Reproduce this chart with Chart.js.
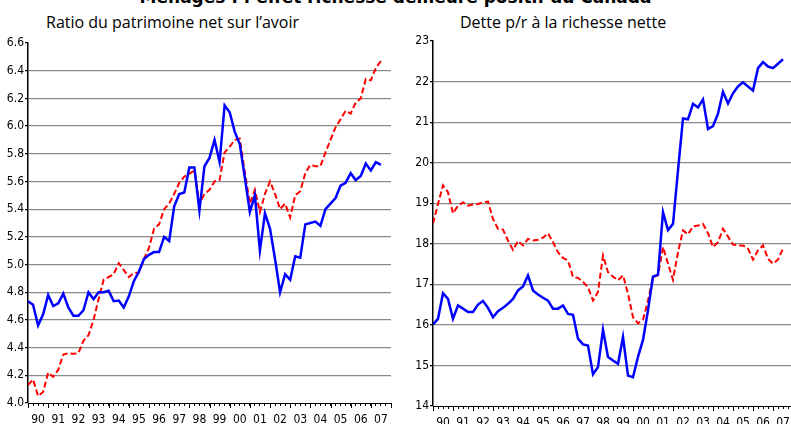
<!DOCTYPE html>
<html>
<head>
<meta charset="utf-8">
<script src="https://cdn.jsdelivr.net/npm/chart.js@4.4.1/dist/chart.umd.min.js"></script>
<style>
  body { margin: 0; width: 791px; height: 424px; overflow: hidden; background: #fff; position: relative; }
  .main-title { position: absolute; left: 0; top: -13px; width: 791px; text-align: center;
    font: bold 17px "DejaVu Sans", sans-serif; color: #000; white-space: nowrap; }
  .sub-title { position: absolute; top: 11px; font: 16px "Open Sans", sans-serif; color: #000; white-space: nowrap; }
  canvas { position: absolute; top: 0; }
</style>
</head>
<body>
<div class="main-title">Ménages : l’effet richesse demeure positif au Canada</div>
<div class="sub-title" id="left-title" style="left:46px">Ratio du patrimoine net sur l’avoir</div>
<div class="sub-title" id="right-title" style="left:460px">Dette p/r à la richesse nette</div>
<canvas id="wealth-chart" width="400" height="424" style="left:0"></canvas>
<canvas id="debt-chart" width="400" height="424" style="left:400px"></canvas>
<script>
// quarterly, 1990T1 .. 2007T3
const yearLabels = ['90','91','92','93','94','95','96','97','98','99','00','01','02','03','04','05','06','07'];

const wealthBlue = [4.735, 4.71, 4.56, 4.64, 4.78, 4.70, 4.72, 4.79, 4.69, 4.63, 4.63, 4.67,
  4.80, 4.75, 4.80, 4.80, 4.81, 4.735, 4.74, 4.69, 4.77, 4.88, 4.95, 5.04,
  5.07, 5.09, 5.09, 5.20, 5.17, 5.42, 5.51, 5.52, 5.70, 5.70, 5.39, 5.71,
  5.77, 5.90, 5.74, 6.15, 6.10, 5.96, 5.87, 5.63, 5.38, 5.50, 5.10, 5.37,
  5.26, 5.04, 4.80, 4.93, 4.89, 5.06, 5.05, 5.29, 5.30, 5.31, 5.28, 5.40,
  5.44, 5.48, 5.57, 5.59, 5.66, 5.61, 5.64, 5.73, 5.68, 5.74, 5.72];

const wealthRed = [4.13, 4.17, 4.05, 4.08, 4.22, 4.19, 4.24, 4.35, 4.36, 4.355, 4.36, 4.45,
  4.49, 4.60, 4.75, 4.89, 4.91, 4.93, 5.01, 4.96, 4.91, 4.94, 4.94, 5.04,
  5.12, 5.26, 5.29, 5.40, 5.44, 5.51, 5.59, 5.635, 5.655, 5.68, 5.44, 5.51,
  5.54, 5.60, 5.61, 5.81, 5.85, 5.90, 5.91, 5.67, 5.44, 5.54, 5.38, 5.51,
  5.60, 5.51, 5.40, 5.44, 5.34, 5.50, 5.53, 5.66, 5.72, 5.71, 5.71, 5.81,
  5.90, 5.99, 6.05, 6.11, 6.09, 6.17, 6.20, 6.34, 6.33, 6.42, 6.47];

const debtBlue = [16.01, 16.15, 16.78, 16.64, 16.15, 16.48, 16.40, 16.32, 16.32, 16.50, 16.59, 16.42,
  16.19, 16.34, 16.42, 16.52, 16.64, 16.85, 16.95, 17.22, 16.85, 16.75, 16.67, 16.60,
  16.40, 16.40, 16.48, 16.27, 16.25, 15.66, 15.52, 15.49, 14.78, 14.96, 15.88, 15.21,
  15.12, 15.04, 15.70, 14.75, 14.71, 15.21, 15.63, 16.36, 17.19, 17.24, 18.78, 18.34,
  18.49, 19.81, 21.09, 21.07, 21.45, 21.36, 21.56, 20.83, 20.90, 21.21, 21.75, 21.46,
  21.71, 21.88, 21.98, 21.88, 21.78, 22.33, 22.48, 22.37, 22.33, 22.44, 22.55];

const debtRed = [18.50, 18.98, 19.44, 19.27, 18.75, 18.94, 19.02, 18.94, 18.97, 18.98, 19.02, 19.04,
  18.61, 18.37, 18.35, 18.08, 17.85, 18.07, 17.96, 18.12, 18.08, 18.10, 18.15, 18.26,
  18.04, 17.79, 17.65, 17.59, 17.18, 17.16, 17.06, 16.93, 16.60, 16.81, 17.71, 17.30,
  17.19, 17.10, 17.22, 16.77, 16.19, 16.04, 16.13, 16.60, 17.18, 17.22, 17.92, 17.51,
  17.11, 17.79, 18.33, 18.23, 18.43, 18.45, 18.49, 18.26, 17.92, 18.04, 18.37, 18.18,
  17.98, 17.96, 17.96, 17.88, 17.61, 17.84, 17.96, 17.63, 17.51, 17.61, 17.88];

const tickFont = { family: "'Liberation Sans Narrow', 'DejaVu Sans Condensed', sans-serif", size: 12 };

function toPoints(values) {
    return values.map((v, i) => ({ x: i, y: v }));
}

// longer tick marks at each year boundary
const yearTicks = {
    id: 'yearTicks',
    afterDraw(chart) {
        const xs = chart.scales.x;
        const ctx = chart.ctx;
        ctx.save();
        ctx.strokeStyle = '#000';
        ctx.lineWidth = 1;
        for (let q = 0; q <= 72; q += 4) {
            const px = Math.round(xs.getPixelForValue(q)) + 0.5;
            ctx.beginPath();
            ctx.moveTo(px, xs.top);
            ctx.lineTo(px, xs.top + 5);
            ctx.stroke();
        }
        ctx.restore();
    }
};

function makeChart(id, blue, red, yMin, yMax, yStep, yDigits, yWidth, xHeight, padTop, padRight) {
    const ctx = document.getElementById(id).getContext('2d');
    return new Chart(ctx, {
        type: 'line',
        data: {
            datasets: [
                {
                    data: toPoints(blue),
                    borderColor: '#0000ff',
                    borderWidth: 2.5,
                    pointRadius: 0,
                    tension: 0,
                    fill: false,
                },
                {
                    data: toPoints(red),
                    borderColor: '#ff0000',
                    borderWidth: 2,
                    borderDash: [6, 3],
                    pointRadius: 0,
                    tension: 0,
                    fill: false,
                },
            ],
        },
        options: {
            responsive: false,
            animation: false,
            devicePixelRatio: 1,
            layout: { padding: { top: padTop, right: padRight, left: 0, bottom: 0 } },
            plugins: { legend: { display: false }, tooltip: { enabled: false } },
            scales: {
                x: {
                    type: 'linear',
                    min: 0,
                    max: 72,
                    afterFit: (scale) => { scale.height = xHeight; },
                    border: { color: '#000', width: 1 },
                    grid: { drawOnChartArea: false, drawTicks: true, tickLength: 3, tickColor: '#000' },
                    ticks: {
                        count: 73,
                        autoSkip: false,
                        maxRotation: 0,
                        padding: 7,
                        color: '#000',
                        font: tickFont,
                        callback: (value, index) => (index % 4 === 2 ? yearLabels[(index - 2) / 4] : ''),
                    },
                },
                y: {
                    min: yMin,
                    max: yMax,
                    afterFit: (scale) => { scale.width = yWidth; },
                    border: { color: '#000', width: 1.5 },
                    grid: {
                        color: (c) => (c.index === 0 || c.tick.value >= yMax - 1e-6 ? 'rgba(0,0,0,0)' : '#8a8a8a'),
                        tickColor: '#000',
                        tickLength: 3,
                        lineWidth: 1.2,
                    },
                    ticks: {
                        stepSize: yStep,
                        padding: 1,
                        color: '#000',
                        font: tickFont,
                        callback: (value) => Number(value).toFixed(yDigits),
                    },
                },
            },
        },
        plugins: [yearTicks],
    });
}

makeChart('wealth-chart', wealthBlue, wealthRed, 4.0, 6.6, 0.2, 1, 28, 21, 43, 9);
makeChart('debt-chart', debtBlue, debtRed, 14, 23, 1, 0, 33, 18, 41, 4);
</script>
</body>
</html>
